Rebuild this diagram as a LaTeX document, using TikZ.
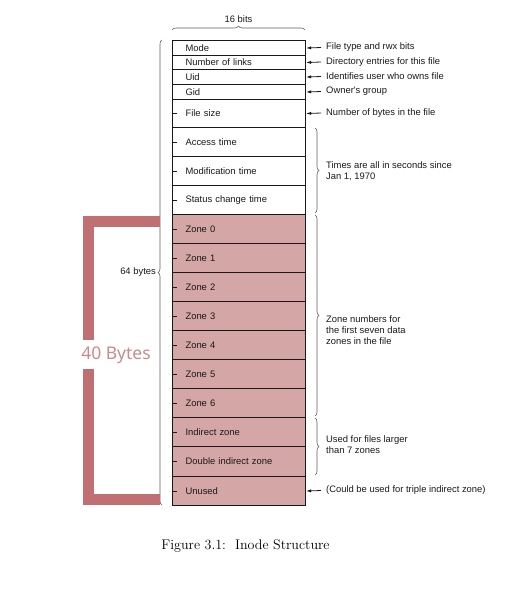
\documentclass[tikz,border=0pt]{standalone}
\usepackage{fontspec}
\newfontfamily\hv{Liberation Sans}
\newfontfamily\noto{Noto Sans}
\usetikzlibrary{decorations.pathreplacing,arrows.meta}
\definecolor{zonefill}{RGB}{212,166,166}
\definecolor{bracketred}{RGB}{192,112,115}
\definecolor{bytestext}{RGB}{200,140,142}
\definecolor{ink}{RGB}{25,25,25}
\tikzset{
  cell/.style={draw=ink, line width=1.1pt, anchor=north west, minimum width=133pt,
    inner xsep=13pt, inner ysep=0pt, text width=107pt, align=left,
    font=\hv\fontsize{9.4}{10}\selectfont, text=ink},
  zonecell/.style={cell, fill=zonefill},
  lbl/.style={anchor=west, inner xsep=5pt, inner ysep=1pt, font=\hv\fontsize{9.4}{11}\selectfont, text=ink, align=left},
  arr/.style={-{Latex[length=5pt,width=3.2pt]}, line width=0.8pt, draw=ink},
  tick/.style={line width=0.9pt, draw=ink},
  bracegray/.style={decorate, decoration={brace, amplitude=4pt}, draw=ink!70, line width=0.6pt},
  bigbar/.style={draw=bracketred, line width=11pt, line join=miter, line cap=butt}
}
\begin{document}
\begin{tikzpicture}[x=1pt,y=-1pt]
\useasboundingbox (0,0) rectangle (514,591);
% rows
\node[cell, minimum height=15pt] (r1) at (172,40) {Mode};
\node[cell, minimum height=14pt] (r2) at (172,55) {Number of links};
\node[cell, minimum height=15pt] (r3) at (172,69) {Uid};
\node[cell, minimum height=15pt] (r4) at (172,84) {Gid};
\node[cell, minimum height=28pt] (r5) at (172,99) {File size};
\node[cell, minimum height=29pt] (r6) at (172,127) {Access time};
\node[cell, minimum height=29pt] (r7) at (172,156) {Modification time};
\node[cell, minimum height=29pt] (r8) at (172,185) {Status change time};
\node[zonecell, minimum height=29pt] (r9) at (172,214) {Zone 0};
\node[zonecell, minimum height=29pt] (r10) at (172,243) {Zone 1};
\node[zonecell, minimum height=29pt] (r11) at (172,272) {Zone 2};
\node[zonecell, minimum height=29pt] (r12) at (172,301) {Zone 3};
\node[zonecell, minimum height=29pt] (r13) at (172,330) {Zone 4};
\node[zonecell, minimum height=29pt] (r14) at (172,359) {Zone 5};
\node[zonecell, minimum height=29pt] (r15) at (172,388) {Zone 6};
\node[zonecell, minimum height=29pt] (r16) at (172,417) {Indirect zone};
\node[zonecell, minimum height=30pt] (r17) at (172,446) {Double indirect zone};
\node[zonecell, minimum height=29pt] (r18) at (172,476) {Unused};
% left ticks
\foreach \r in {5,...,18}{
  \draw[tick] (r\r.west) -- ++(5,0);
}
% top brace
\draw[bracegray] (172,30) -- (305,30) node[midway, above=4pt, font=\hv\fontsize{9.4}{10}\selectfont, text=ink] (bits) {16 bits};
% left brace
\draw[bracegray] (162,505) -- (162,40);
\node[anchor=east, inner sep=1pt, font=\hv\fontsize{9.4}{10}\selectfont, text=ink] (sixty) at (157,272) {64 bytes};
% right labels with arrows
\node[lbl] (l1) at (321,47.5) {File type and rwx bits};
\node[lbl] (l2) at (321,62) {Directory entries for this file};
\node[lbl] (l3) at (321,76.5) {Identifies user who owns file};
\node[lbl] (l4) at (321,91.5) {Owner's group};
\node[lbl] (l5) at (321,113) {Number of bytes in the file};
\node[lbl] (l18) at (321,490.5) {(Could be used for triple indirect zone)};
\draw[arr] (l1.west) -- (r1.east);
\draw[arr] (l2.west) -- (r2.east);
\draw[arr] (l3.west) -- (r3.east);
\draw[arr] (l4.west) -- (r4.east);
\draw[arr] (l5.west) -- (r5.east);
\draw[arr] (l18.west) -- (r18.east);
% right braces
\draw[bracegray] (315,128) -- (315,213);
\draw[bracegray] (315,215) -- (315,416);
\draw[bracegray] (315,418) -- (315,475);
\node[lbl, inner xsep=0pt] (t1) at (326,171) {Times are all in seconds since\\Jan 1, 1970};
\node[lbl, inner xsep=0pt] (t2) at (326,330) {Zone numbers for\\the first seven data\\zones in the file};
\node[lbl, inner xsep=0pt] (t3) at (326,445) {Used for files larger\\than 7 zones};
% big red bracket
\draw[bigbar] (160,221.5) -- (88,221.5) -- (88,340);
\draw[bigbar] (88,369) -- (88,499) -- (160,499);
\node[font=\noto\fontsize{17.5}{20}\selectfont, text=bytestext, inner sep=0pt] (forty) at (116,355) {40 Bytes};
% caption
\node[font=\fontsize{14}{16}\selectfont, inner sep=0pt] (cap) at (245.5,546) {Figure 3.1:\ \ Inode Structure};
\end{tikzpicture}
\end{document}
